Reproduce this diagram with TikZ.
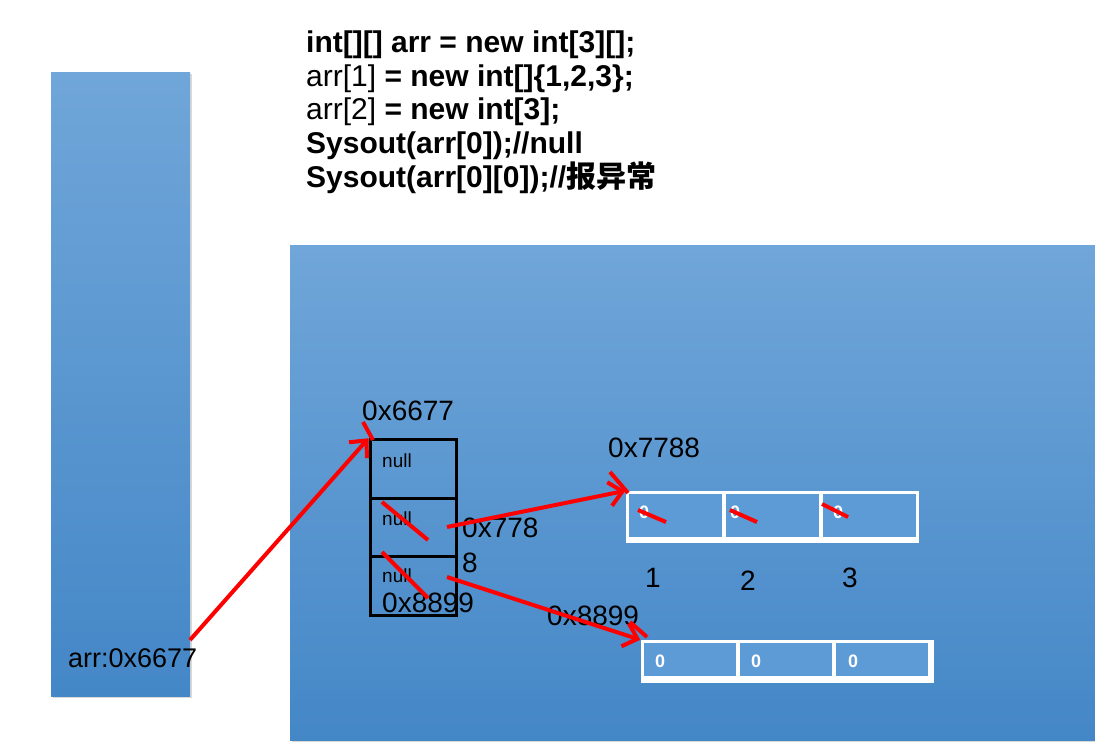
\documentclass[tikz,border=0pt]{standalone}
\usepackage{fontspec}
\setmainfont{Liberation Sans}
\newfontfamily\cjk{Noto Sans CJK SC}
\usetikzlibrary{arrows.meta,shadows,positioning}

\definecolor{memtop}{HTML}{70A6D9}
\definecolor{memmid}{HTML}{5A9AD6}
\definecolor{membot}{HTML}{4487C7}
\definecolor{cellblue}{HTML}{5C9BD6}

\tikzset{
  mem/.style={top color=memtop, middle color=memmid, bottom color=membot,
    drop shadow={opacity=0.3, shadow xshift=2pt, shadow yshift=-2pt}},
  code/.style={anchor=base west, inner sep=0pt, font=\fontsize{30}{34}\selectfont},
  addr/.style={anchor=base west, inner sep=0pt, font=\fontsize{28}{34}\selectfont},
  nullcell/.style={draw=black, line width=3pt, minimum width=86pt, minimum height=58.5pt, inner sep=0pt},
  nulltxt/.style={anchor=base west, inner sep=0pt, font=\fontsize{19}{22}\selectfont},
  frame/.style={fill=white, inner sep=0pt},
  cell/.style={fill=cellblue, minimum width=93pt, minimum height=43pt, inner sep=0pt},
  zero/.style={anchor=base west, inner sep=0pt, text=white, font=\fontsize{18}{20}\selectfont\bfseries},
  ptr/.style={red, line width=4pt, -{Straight Barb[length=13pt, width=24pt, line width=4pt]}},
  cross/.style={red, line width=4pt},
}

\begin{document}
\begin{tikzpicture}[x=1pt, y=-1pt]
  \useasboundingbox (0,0) rectangle (1095,748);

  % stack and heap
  \path[mem] (51,72) rectangle (190,696);
  \path[mem] (290,245) rectangle (1100,740);

  % code
  \node[code] (c1) at (306,52) {\textbf{int[][] arr = new int[3][];}};
  \node[code] (c2) at (306,86) {arr[1] \textbf{= new int[]\{1,2,3\};}};
  \node[code] (c3) at (306,119) {arr[2] \textbf{= new int[3];}};
  \node[code] (c4) at (306,153) {\textbf{Sysout(arr[0]);//null}};
  \node[code] (c5) at (306,187) {\textbf{Sysout(arr[0][0]);//{\cjk 报异常}}};

  \node[addr, font=\fontsize{27}{30}\selectfont] (ref) at (68,667) {arr:0x6677};

  % outer array
  \node[nullcell] (n0) at (413,469) {};
  \node[nullcell] (n1) at (413,527.5) {};
  \node[nullcell] (n2) at (413,586) {};
  \node[nulltxt] at (382,467) {null};
  \node[nulltxt] at (382,525) {null};
  \node[nulltxt] at (382,582) {null};
  \node[addr] (a0) at (362,420) {0x6677};
  \node[addr, anchor=north west, align=left, font=\fontsize{28}{35}\selectfont]
    (a1) at (462,518) {0x778\\8};
  \node[addr] (a2) at (382,612) {0x8899};

  % int[]{1,2,3}
  \node[frame, minimum width=293pt, minimum height=52pt] (f1) at (772,517) {};
  \foreach \i/\x in {1/675,2/772,3/869}
    \node[cell] (p\i) at (\x,515.5) {};
  \foreach \x in {639,730,833}
    \node[zero] at (\x,518) {0};
  \node[addr] (b1) at (608,457) {0x7788};
  \node[addr] at (645,587) {1};
  \node[addr] at (740,590) {2};
  \node[addr] at (842,587) {3};

  % int[3]
  \node[frame, minimum width=293pt, minimum height=43pt] (f2) at (787,661.5) {};
  \foreach \i/\x in {1/690,2/785.5,3/882}
    \node[cell, minimum width=92pt, minimum height=33pt] (q\i) at (\x,659.5) {};
  \foreach \x in {655,751,848}
    \node[zero] at (\x,667) {0};
  \node[addr] (b2) at (547,625) {0x8899};

  % references
  \coordinate (s0) at (190,640);
  \coordinate (s1) at (447,527);
  \coordinate (s2) at (447,577);
  \draw[ptr] (s0) -- (n0.north west);
  \draw[ptr] (s1) -- (f1.north west);
  \draw[ptr] (s2) -- (f2.north west);

  % strike-outs
  \draw[cross] (363,422) -- (373,440);
  \draw[cross] (610,472) -- (628,493);
  \draw[cross] (630,622) -- (647,637);
  \draw[cross] (382,502) -- (428,540);
  \draw[cross] (382,552) -- (428,598);
  \draw[cross] (638,510) -- (666,522);
  \draw[cross] (730,510) -- (757,522);
  \draw[cross] (822,504) -- (848,517);
\end{tikzpicture}
\end{document}
